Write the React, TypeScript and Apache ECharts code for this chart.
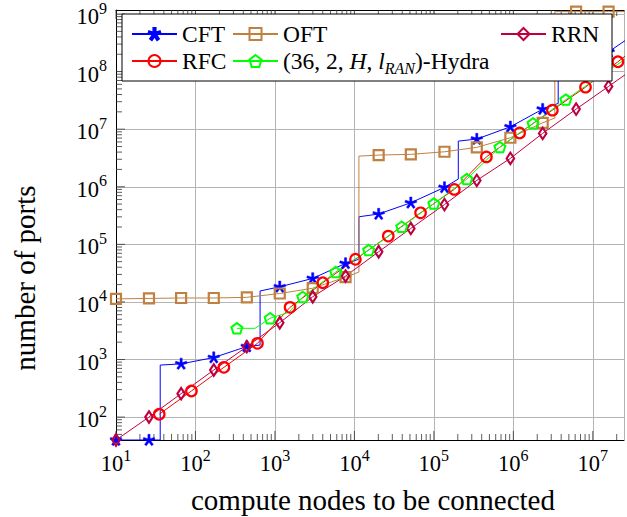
import React, { useEffect, useRef } from "react";
import * as echarts from "echarts";

// Axis ranges (log scales)
const X_MIN = 10;
const X_MAX = 2.47e7;
const Y_MIN = 40;
const Y_MAX = 1.17e9;

// CFT: compute nodes / ports; unmarked vertices are the step corners
const CFT_NODES = [10, 26, 36, 36, 66, 170, 443, 650, 650, 1150, 2990, 7740, 11400, 11400, 20200, 51300, 136000, 203000, 203000, 347000, 918000, 2340000, 3670000, 3670000, 15800000, 41000000];
const CFT_PORTS = [40, 40, 40, 800, 840, 1080, 1680, 1780, 15500, 18300, 25600, 46700, 55000, 301000, 336000, 527000, 975000, 1360000, 6200000, 6730000, 11000000, 22300000, 28000000, 150000000, 220000000, 540000000];
const CFT_MARKED = [1, 1, 0, 0, 1, 1, 1, 0, 0, 1, 1, 1, 0, 0, 1, 1, 1, 0, 0, 1, 1, 1, 0, 0, 1, 1];

// OFT
const OFT_NODES = [10, 26, 66, 170, 443, 1150, 2990, 7740, 11400, 11400, 20200, 51300, 136000, 347000, 918000, 2340000, 3330000, 3330000, 6170000, 15800000, 41000000];
const OFT_PORTS = [11300, 11500, 11700, 11700, 12000, 14000, 17300, 26900, 33000, 3400000, 3550000, 3650000, 4050000, 4830000, 7100000, 12900000, 15600000, 1100000000, 1100000000, 1100000000, 1100000000];
const OFT_MARKED = [1, 1, 1, 1, 1, 1, 1, 1, 0, 0, 1, 1, 1, 1, 1, 1, 0, 0, 1, 1, 1];

// RRN
const RRN_NODES = [10, 26, 66, 170, 443, 1150, 2990, 7740, 20200, 51300, 136000, 347000, 918000, 2340000, 6170000, 15800000, 41000000];
const RRN_PORTS = [40, 100, 255, 656, 1670, 4350, 12300, 28100, 74300, 189000, 490000, 1290000, 3110000, 8450000, 22300000, 55300000, 140000000];

// RFC
const RFC_NODES = [35, 89, 228, 603, 1550, 4000, 10300, 26700, 68000, 181000, 458000, 1200000, 3100000, 8100000, 20700000, 53000000];
const RFC_PORTS = [112, 284, 731, 1910, 8050, 21500, 55000, 139000, 353000, 900000, 3300000, 8600000, 21400000, 53700000, 148000000, 410000000];

// (36, 2, H, l_RAN)-Hydra
const HYDRA_NODES = [332, 562, 870, 1500, 2240, 5820, 15100, 39400, 100000, 260000, 677000, 1770000, 4570000, 30900000];
const HYDRA_PORTS = [3480, 3480, 5200, 6600, 12200, 33000, 79500, 202000, 510000, 1360000, 4880000, 12600000, 32600000, 196000000];
const HYDRA_MARKED = [1, 0, 1, 0, 1, 1, 1, 1, 1, 1, 1, 1, 1, 1];

const HYDRA_NAME = "(36, 2, H, l_RAN)-Hydra";

const FONT = '"Liberation Serif", "Times New Roman", serif';

const C_CFT = "#0000ff";
const C_OFT = "#bf8040";
const C_RRN = "#bf0040";
const C_RFC = "#ff0000";
const C_HYDRA = "#00ff00";

function points(xs: number[], ys: number[], marked?: number[]) {
  return xs.map((x, i) =>
    marked && !marked[i] ? { value: [x, ys[i]], symbol: "none" } : [x, ys[i]]
  );
}

// five-armed asterisk used as the CFT mark
function asteriskPath(): string {
  const c = 50, r = 50, w = 9;
  let d = "";
  for (let k = 0; k < 5; k++) {
    const a = ((-90 + 72 * k) * Math.PI) / 180;
    const dx = Math.cos(a), dy = Math.sin(a);
    const nx = -dy, ny = dx;
    const pts = [
      [c + nx * w, c + ny * w],
      [c + nx * w + dx * r, c + ny * w + dy * r],
      [c - nx * w + dx * r, c - ny * w + dy * r],
      [c - nx * w, c - ny * w],
    ];
    d += "M" + pts.map((p) => p[0].toFixed(2) + "," + p[1].toFixed(2)).join("L") + "Z";
  }
  return "path://" + d;
}

const PENTAGON = "path://M50,0L97.55,34.55L79.39,90.45L20.61,90.45L2.45,34.55Z";

// major/minor tick marks on bottom, top and left sides
function tickMarks(): number[][] {
  const out: number[][] = [];
  for (let k = 0; k <= 9; k++) {
    for (let m = 1; m <= 9; m++) {
      const v = m * Math.pow(10, k);
      const len = m === 1 ? 9 : 6;
      if (v >= X_MIN && v <= X_MAX) {
        out.push([v, Y_MIN, len, 0]);
        out.push([v, Y_MAX, len, 1]);
      }
      if (v >= Y_MIN && v <= Y_MAX) out.push([X_MIN, v, len, 2]);
    }
  }
  return out;
}

function powLabel(v: number): string {
  const e = Math.log10(v);
  const r = Math.round(e);
  if (Math.abs(e - r) > 1e-6) return "";
  return "{b|10}{s|" + r + "}";
}

const powRich = {
  b: { fontSize: 22.5, fontFamily: FONT, color: "#000", lineHeight: 28, verticalAlign: "bottom" },
  s: { fontSize: 16, fontFamily: FONT, color: "#000", verticalAlign: "top" },
};

function legendAt(name: string, left: number, centerY: number) {
  return {
    show: true,
    z: 60,
    data: [name],
    left,
    top: centerY - 15,
    padding: 0,
    itemWidth: 45,
    itemHeight: 15,
    itemGap: 0,
    selectedMode: false,
    formatter: (n: string) =>
      n === HYDRA_NAME ? "(36, 2, {i|H}, {i|l}{sub|RAN})-Hydra" : n,
    textStyle: {
      fontFamily: FONT,
      fontSize: 23.5,
      color: "#000",
      lineHeight: 30,
      rich: {
        i: { fontFamily: FONT, fontSize: 23.5, fontStyle: "italic", color: "#000", lineHeight: 30 },
        sub: { fontFamily: FONT, fontSize: 16, fontStyle: "italic", color: "#000", lineHeight: 30, verticalAlign: "bottom" },
      },
    },
  };
}

export default function App() {
  const ref = useRef<HTMLDivElement>(null);

  useEffect(() => {
    if (!ref.current) return;
    const chart = echarts.init(ref.current, undefined, { renderer: "svg" });

    const axisLine = { show: true, onZero: false, lineStyle: { color: "#000", width: 1 } };

    const lineBase = {
      type: "line",
      showAllSymbol: true,
      clip: true,
      z: 2,
      lineStyle: { width: 1 },
      emphasis: { disabled: true },
    };

    chart.setOption({
      animation: false,
      textStyle: { fontFamily: FONT },
      grid: { left: 116, top: 10, width: 514, height: 430 },
      xAxis: [
        {
          type: "log",
          logBase: 10,
          min: X_MIN,
          max: X_MAX,
          splitNumber: 10,
          axisLine,
          axisTick: { show: false },
          axisLabel: { formatter: powLabel, rich: powRich, margin: 7, showMinLabel: true },
          splitLine: { show: true, lineStyle: { color: "#b4b4b4", width: 1 } },
        },
        {
          type: "log",
          logBase: 10,
          position: "top",
          min: X_MIN,
          max: X_MAX,
          axisLine,
          axisTick: { show: false },
          axisLabel: { show: false },
          splitLine: { show: false },
        },
      ],
      yAxis: [
        {
          type: "log",
          logBase: 10,
          min: Y_MIN,
          max: Y_MAX,
          splitNumber: 10,
          axisLine,
          axisTick: { show: false },
          axisLabel: { formatter: powLabel, rich: powRich, margin: 9 },
          splitLine: { show: true, lineStyle: { color: "#b4b4b4", width: 1 } },
        },
      ],
      legend: [
        legendAt("CFT", 131, 34),
        legendAt("OFT", 232, 34),
        legendAt("RRN", 500, 34),
        legendAt("RFC", 131, 61),
        legendAt(HYDRA_NAME, 232, 61),
      ],
      graphic: {
        elements: [
          {
            type: "rect",
            z: 50,
            shape: { x: 122, y: 14, width: 490, height: 67 },
            style: { fill: "#fff", stroke: "#000", lineWidth: 1 },
          },
          {
            type: "text",
            x: 373,
            y: 500,
            style: {
              text: "compute nodes to be connected",
              font: "29px " + FONT,
              fill: "#000",
              textAlign: "center",
              textVerticalAlign: "middle",
            },
          },
          {
            type: "text",
            x: 25,
            y: 278,
            rotation: Math.PI / 2,
            style: {
              text: "number of ports",
              font: "29px " + FONT,
              fill: "#000",
              textAlign: "center",
              textVerticalAlign: "middle",
            },
          },
        ],
      },
      series: [
        {
          type: "custom",
          name: "ticks",
          coordinateSystem: "cartesian2d",
          clip: false,
          z: 1,
          encode: { x: 0, y: 1 },
          data: tickMarks(),
          renderItem: (_params: any, api: any) => {
            const p = api.coord([api.value(0), api.value(1)]);
            const len = api.value(2) as number;
            const dir = api.value(3) as number;
            let x2 = p[0], y2 = p[1];
            if (dir === 0) y2 -= len;
            else if (dir === 1) y2 += len;
            else x2 += len;
            return {
              type: "line",
              shape: { x1: p[0], y1: p[1], x2, y2 },
              style: { stroke: "#333", lineWidth: 0.8 },
            };
          },
        },
        {
          ...lineBase,
          name: "CFT",
          color: C_CFT,
          symbol: asteriskPath(),
          symbolSize: 12,
          symbolKeepAspect: true,
          lineStyle: { width: 1, color: C_CFT },
          itemStyle: { color: C_CFT, borderColor: C_CFT, borderWidth: 0.5 },
          data: points(CFT_NODES, CFT_PORTS, CFT_MARKED),
        },
        {
          ...lineBase,
          name: "OFT",
          color: C_OFT,
          symbol: "rect",
          symbolSize: 10,
          lineStyle: { width: 1, color: C_OFT },
          itemStyle: { color: "rgba(0,0,0,0)", borderColor: C_OFT, borderWidth: 2.2 },
          data: points(OFT_NODES, OFT_PORTS, OFT_MARKED),
        },
        {
          ...lineBase,
          name: "RRN",
          color: C_RRN,
          symbol: "diamond",
          symbolSize: [7.5, 11.5],
          lineStyle: { width: 1, color: C_RRN },
          itemStyle: { color: "rgba(0,0,0,0)", borderColor: C_RRN, borderWidth: 2.2 },
          data: points(RRN_NODES, RRN_PORTS),
        },
        {
          ...lineBase,
          name: "RFC",
          color: C_RFC,
          symbol: "circle",
          symbolSize: 10.5,
          lineStyle: { width: 1, color: C_RFC },
          itemStyle: { color: "rgba(0,0,0,0)", borderColor: C_RFC, borderWidth: 2.2 },
          data: points(RFC_NODES, RFC_PORTS),
        },
        {
          ...lineBase,
          name: HYDRA_NAME,
          color: C_HYDRA,
          symbol: PENTAGON,
          symbolSize: 11,
          symbolKeepAspect: true,
          lineStyle: { width: 1, color: C_HYDRA },
          itemStyle: { color: "rgba(0,0,0,0)", borderColor: C_HYDRA, borderWidth: 2 },
          data: points(HYDRA_NODES, HYDRA_PORTS, HYDRA_MARKED),
        },
      ],
    });

    return () => chart.dispose();
  }, []);

  return (
    <div
      style={{ position: "fixed", left: 0, top: 0, width: 627, height: 517, overflow: "hidden", background: "#fff" }}
    >
      <div ref={ref} style={{ width: 627, height: 517 }} />
    </div>
  );
}
